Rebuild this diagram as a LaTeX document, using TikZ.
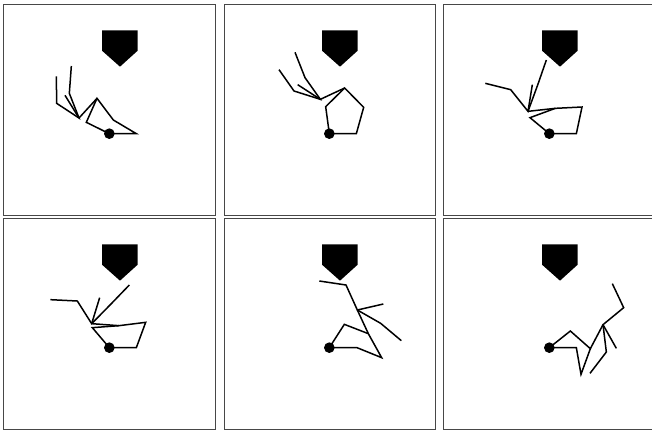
\documentclass[tikz,border=0pt]{standalone}
\tikzset{
  panelframe/.style={draw=black!72,line width=0.9pt},
  linkage/.style={draw=black,line width=1.5pt,line join=miter,line cap=butt},
  headshape/.style={fill=black,draw=none},
  pivot/.style={fill=black,draw=none}
}
\newcommand{\headdot}[2]{%
  \begin{scope}[shift={(#1,#2)}]
    \path[headshape] (306,91) -- (413,91) -- (413,152) -- (360,200) -- (306,152) -- cycle;
    \path[pivot] (328,401) circle [radius=16];
  \end{scope}}
\begin{document}
\begin{tikzpicture}[x=0.33333pt,y=-0.33333pt]
\useasboundingbox (0,0) rectangle (1956,1296);
\clip (0,0) rectangle (1956,1296);
\fill[white] (0,0) rectangle (1956,1296);
% frames
\draw[panelframe] (11,13) rectangle (645,645);
\draw[panelframe] (672,13) rectangle (1305,645);
\draw[panelframe] (1331,13) rectangle (1970,645);
\draw[panelframe] (11,656) rectangle (645,1288);
\draw[panelframe] (672,656) rectangle (1305,1288);
\draw[panelframe] (1331,656) rectangle (1970,1288);
% panel 1
\begin{scope}
  \headdot{0}{0}
  \draw[linkage] (328,401) -- (259,367) -- (291,295) -- (340,360) -- (409,401) -- cycle;
  \draw[linkage] (291,295) -- (237,354);
  \draw[linkage] (169,229) -- (170,310) -- (237,354) -- (208,280) -- (214,198);
  \draw[linkage] (237,354) -- (195,286);
\end{scope}
% panel 2
\begin{scope}[shift={(660,0)}]
  \headdot{0}{0}
  \draw[linkage] (328,401) -- (317,320) -- (374,264) -- (431,322) -- (409,401) -- cycle;
  \draw[linkage] (374,264) -- (301,298);
  \draw[linkage] (177,209) -- (222,273) -- (301,298) -- (255,233) -- (225,157);
  \draw[linkage] (301,298) -- (233,254);
\end{scope}
% panel 3
\begin{scope}[shift={(1308,0)}]
  \headdot{12}{0}
  \draw[linkage] (340,401) -- (282,353) -- (358,325) -- (438,321) -- (421,401) -- cycle;
  \draw[linkage] (358,325) -- (276,334);
  \draw[linkage] (148,250) -- (224,269) -- (276,334) -- (305,255) -- (331,180);
  \draw[linkage] (276,334) -- (289,254);
\end{scope}
% panel 4
\begin{scope}[shift={(0,648)}]
  \headdot{0}{-6}
  \draw[linkage] (328,395) -- (277,335) -- (357,329) -- (437,319) -- (409,395) -- cycle;
  \draw[linkage] (357,329) -- (275,323);
  \draw[linkage] (151,251) -- (232,255) -- (275,323) -- (332,265) -- (388,207);
  \draw[linkage] (275,323) -- (299,245);
\end{scope}
% panel 5
\begin{scope}[shift={(660,648)}]
  \headdot{0}{-6}
  \draw[linkage] (328,395) -- (373,325) -- (445,353) -- (485,425) -- (411,395) -- cycle;
  \draw[linkage] (445,353) -- (412,282);
  \draw[linkage] (298,195) -- (378,207) -- (412,282) -- (482,322) -- (544,374);
  \draw[linkage] (412,282) -- (490,264);
\end{scope}
% panel 6
\begin{scope}[shift={(1308,648)}]
  \headdot{12}{-6}
  \draw[linkage] (340,395) -- (403,345) -- (463,398) -- (435,475) -- (421,395) -- cycle;
  \draw[linkage] (463,398) -- (501,326);
  \draw[linkage] (529,203) -- (563,275) -- (501,326) -- (511,408) -- (462,472);
  \draw[linkage] (501,326) -- (541,397);
\end{scope}
\end{tikzpicture}
\end{document}
